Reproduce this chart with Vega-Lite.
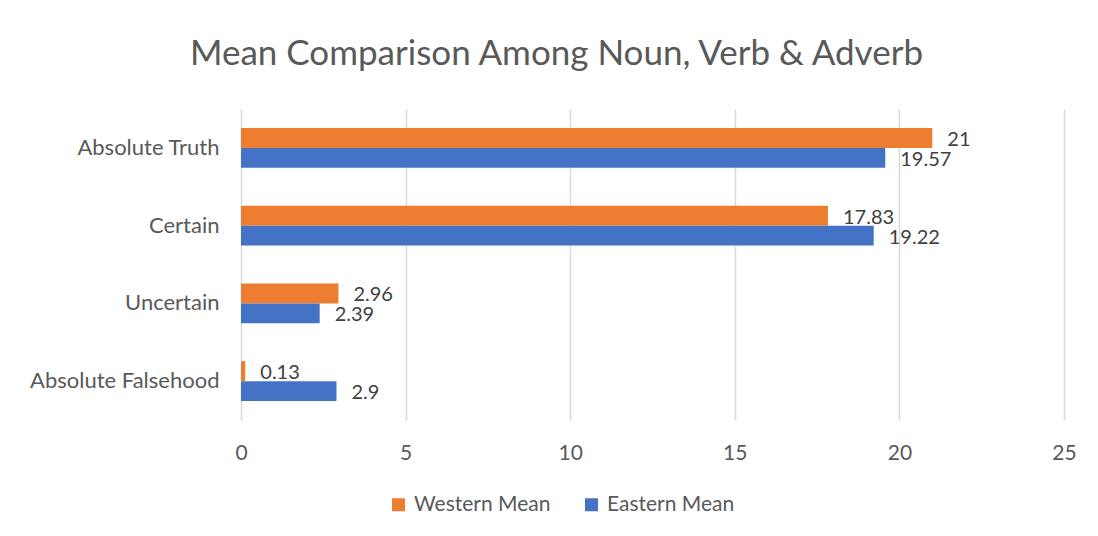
{
  "$schema": "https://vega.github.io/schema/vega-lite/v6.json",
  "autosize": "none",
  "width": 823,
  "height": 311,
  "padding": {"left": 241, "top": 109, "right": 34, "bottom": 116},
  "background": "white",
  "title": {
    "text": "Mean Comparison Among Noun, Verb & Adverb",
    "font": "Lato",
    "fontSize": 35,
    "fontWeight": "normal",
    "color": "#595959",
    "anchor": "middle",
    "dx": -96,
    "baseline": "alphabetic",
    "offset": 9
  },
  "data": {
    "values": [
      {"category": "Absolute Truth", "series": "Western Mean", "value": 21},
      {"category": "Absolute Truth", "series": "Eastern Mean", "value": 19.57},
      {"category": "Certain", "series": "Western Mean", "value": 17.83},
      {"category": "Certain", "series": "Eastern Mean", "value": 19.22},
      {"category": "Uncertain", "series": "Western Mean", "value": 2.96},
      {"category": "Uncertain", "series": "Eastern Mean", "value": 2.39},
      {"category": "Absolute Falsehood", "series": "Western Mean", "value": 0.13},
      {"category": "Absolute Falsehood", "series": "Eastern Mean", "value": 2.9}
    ]
  },
  "encoding": {
    "y": {
      "field": "category",
      "type": "nominal",
      "sort": ["Absolute Truth", "Certain", "Uncertain", "Absolute Falsehood"],
      "scale": {"paddingInner": 0.486, "paddingOuter": 0.243},
      "axis": {
        "title": null,
        "domain": false,
        "ticks": false,
        "grid": false,
        "labelFont": "Lato",
        "labelFontSize": 22,
        "labelColor": "#595959",
        "labelPadding": 22,
        "labelLimit": 400
      }
    },
    "yOffset": {
      "field": "series",
      "type": "nominal",
      "sort": ["Western Mean", "Eastern Mean"],
      "scale": {"paddingInner": 0, "paddingOuter": 0}
    },
    "x": {
      "field": "value",
      "type": "quantitative",
      "scale": {"domain": [0, 25], "nice": false},
      "axis": {
        "title": null,
        "values": [0, 5, 10, 15, 20, 25],
        "domain": false,
        "ticks": false,
        "grid": true,
        "gridColor": "#D9D9D9",
        "gridWidth": 1.5,
        "labelFlush": false,
        "labelFont": "Lato",
        "labelFontSize": 21,
        "labelColor": "#595959",
        "labelPadding": 22
      }
    }
  },
  "layer": [
    {
      "mark": {"type": "bar", "cornerRadius": 0},
      "encoding": {
        "color": {
          "field": "series",
          "type": "nominal",
          "scale": {"domain": ["Western Mean", "Eastern Mean"], "range": ["#ED7D31", "#4472C4"]},
          "legend": {
            "title": null,
            "orient": "none",
            "legendX": 147,
            "legendY": 385,
            "direction": "horizontal",
            "symbolType": "square",
            "symbolSize": 169,
            "symbolStrokeWidth": 0,
            "labelFont": "Lato",
            "labelFontSize": 21,
            "labelColor": "#595959",
            "labelOffset": 5,
            "columnPadding": 30
          }
        }
      }
    },
    {
      "mark": {"type": "text", "align": "left", "baseline": "middle", "dx": 15, "dy": 2, "font": "Lato", "fontSize": 20, "color": "#404040"},
      "encoding": {
        "text": {"field": "value", "type": "quantitative"}
      }
    }
  ],
  "config": {
    "view": {"stroke": null}
  }
}
